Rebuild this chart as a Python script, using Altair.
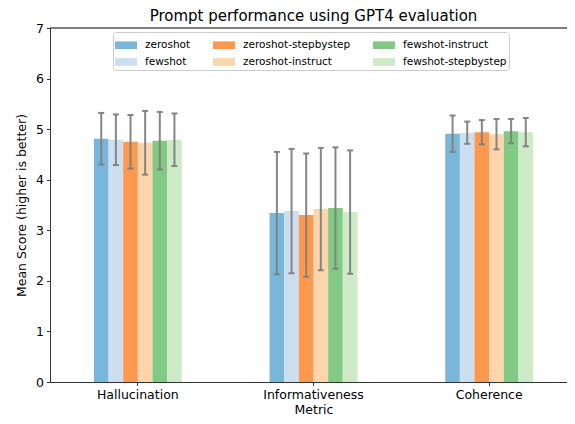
import altair as alt
import pandas as pd

metrics = ["Hallucination", "Informativeness", "Coherence"]
series = ["zeroshot", "fewshot", "zeroshot-stepbystep", "zeroshot-instruct",
          "fewshot-instruct", "fewshot-stepbystep"]
colors = ["#6baed6", "#c6dbef", "#fd8d3c", "#fdd0a2", "#74c476", "#c7e9c0"]

# mean scores per series, in metric order
means = {
    "zeroshot":            [4.81, 3.34, 4.91],
    "fewshot":             [4.79, 3.38, 4.93],
    "zeroshot-stepbystep": [4.75, 3.30, 4.94],
    "zeroshot-instruct":   [4.73, 3.42, 4.90],
    "fewshot-instruct":    [4.77, 3.44, 4.96],
    "fewshot-stepbystep":  [4.79, 3.36, 4.94],
}
# standard deviations per series, in metric order
stds = {
    "zeroshot":            [0.51, 1.21, 0.36],
    "fewshot":             [0.50, 1.23, 0.22],
    "zeroshot-stepbystep": [0.53, 1.22, 0.24],
    "zeroshot-instruct":   [0.63, 1.21, 0.30],
    "fewshot-instruct":    [0.57, 1.20, 0.24],
    "fewshot-stepbystep":  [0.52, 1.22, 0.28],
}

rows = []
for s in series:
    for i, m in enumerate(metrics):
        rows.append({"Metric": m, "Series": s, "mean": means[s][i],
                     "lo": means[s][i] - stds[s][i], "hi": means[s][i] + stds[s][i]})
df = pd.DataFrame(rows)

FONT = "DejaVu Sans"
W, H = 527, 354

xscale = alt.Scale(paddingInner=0.5, paddingOuter=0.25)
x_enc = alt.X("Metric:N", sort=metrics, title="Metric", scale=xscale,
              axis=alt.Axis(labelAngle=0, labelFontSize=12.5, titleFontSize=12.5,
                            labelColor="black", titleColor="black",
                            tickColor="#333", domainColor="#333", tickSize=3.5,
                            labelPadding=3, titlePadding=2.5, titleFontWeight="normal",
                            labelFont=FONT, titleFont=FONT))
x_plain = alt.X("Metric:N", sort=metrics, scale=xscale)
xo_enc = alt.XOffset("Series:N", sort=series,
                     scale=alt.Scale(paddingInner=0, paddingOuter=0))
yscale = alt.Scale(domain=[0, 7], nice=False)

base = alt.Chart(df)

bars = base.mark_bar(opacity=0.9).encode(
    x=x_enc,
    xOffset=xo_enc,
    y=alt.Y("mean:Q", title="Mean Score (higher is better)", scale=yscale,
            axis=alt.Axis(values=[0, 1, 2, 3, 4, 5, 6, 7], grid=False,
                          labelFontSize=12.5, titleFontSize=12.5, tickSize=3.5,
                          labelColor="black", titleColor="black",
                          tickColor="#333", domainColor="#333",
                          labelPadding=3, titlePadding=7, titleFontWeight="normal",
                          labelFont=FONT, titleFont=FONT)),
    color=alt.Color("Series:N", sort=series,
                    scale=alt.Scale(domain=series, range=colors),
                    legend=alt.Legend(title=None, orient="none", legendX=63, legendY=4,
                                      columns=3, columnPadding=22, rowPadding=-3,
                                      labelFontSize=10.5, labelFont=FONT,
                                      labelColor="black",
                                      symbolType="M-1,-0.35L1,-0.35L1,0.35L-1,0.35Z",
                                      symbolSize=484, symbolOpacity=0.9,
                                      symbolStrokeWidth=0, labelOffset=8,
                                      strokeColor="#cccccc", fillColor="white",
                                      padding=2, cornerRadius=3)),
)

err = base.mark_rule(color="#808080", strokeWidth=2, opacity=0.95).encode(
    x=x_plain,
    xOffset=xo_enc,
    y=alt.Y("lo:Q", scale=yscale),
    y2="hi:Q",
)
cap_lo = base.mark_tick(color="#808080", size=6, thickness=2, opacity=0.95).encode(
    x=x_plain,
    xOffset=xo_enc,
    y=alt.Y("lo:Q", scale=yscale),
)
cap_hi = base.mark_tick(color="#808080", size=6, thickness=2, opacity=0.95).encode(
    x=x_plain,
    xOffset=xo_enc,
    y=alt.Y("hi:Q", scale=yscale),
)
top_spine = alt.Chart(pd.DataFrame({"top": [7]})).mark_rule(
    color="black", strokeWidth=1).encode(
    y=alt.Y("top:Q", scale=yscale),
    x=alt.value(0),
    x2=alt.value(W),
)

chart = alt.layer(bars, err, cap_lo, cap_hi, top_spine).properties(
    width=W, height=H,
    title=alt.TitleParams("Prompt performance using GPT4 evaluation", fontSize=15,
                          font=FONT, fontWeight="normal", color="black", offset=2,
                          dy=16, baseline="alphabetic", frame="group"),
    autosize=alt.AutoSizeParams(type="none"),
    padding={"left": 42, "top": 20, "right": -10, "bottom": 34},
).configure_view(stroke=None)

chart.save("out.html", embed_options={"renderer": "svg", "actions": False})
